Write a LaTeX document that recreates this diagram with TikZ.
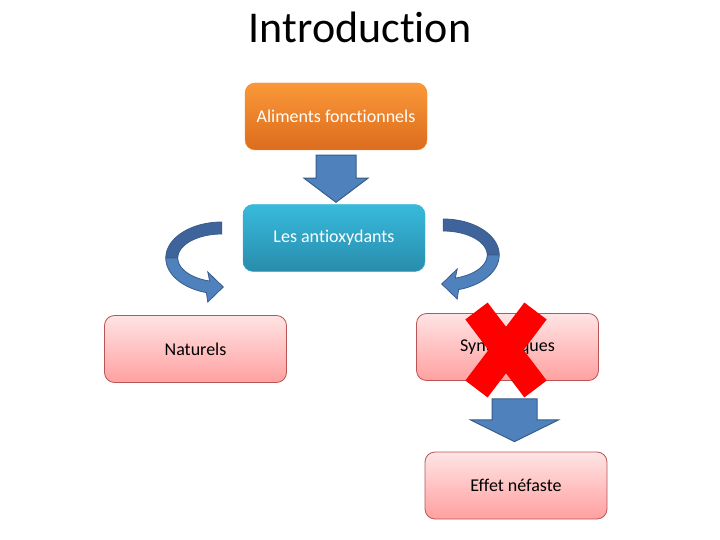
\documentclass[tikz,border=0pt]{standalone}
\usepackage{fontspec}
\setmainfont{Carlito}[Ligatures={NoCommon}]
\usetikzlibrary{calc}
\definecolor{arrfill}{HTML}{4F81BD}
\definecolor{arrline}{HTML}{385D8A}
\definecolor{arrdark}{RGB}{62,100,155}
\definecolor{pinkline}{RGB}{185,85,85}
\definecolor{pinktop}{RGB}{255,228,228}
\definecolor{pinkbot}{RGB}{255,160,160}
\definecolor{orgtop}{RGB}{250,152,56}
\definecolor{orgbot}{RGB}{220,108,30}
\definecolor{blutop}{RGB}{56,186,220}
\definecolor{blubot}{RGB}{40,140,172}
\newcommand\CurvArr{%
  \fill[arrdark,draw=arrline,line width=0.8pt]
    plot[domain=270:180,samples=40] ({56*cos(\x)},{36*sin(\x)})
    -- plot[domain=180:270,samples=40] ({44*cos(\x)},{24*sin(\x)}) -- cycle;
  \fill[arrfill,draw=arrline,line width=0.8pt]
    plot[domain=180:106,samples=40] ({56*cos(\x)},{36*sin(\x)})
    -- (-14,44) -- (1.5,29) -- (-14,14)
    -- plot[domain=106:180,samples=40] ({44*cos(\x)},{24*sin(\x)}) -- cycle;
}
\begin{document}
\begin{tikzpicture}[x=1pt,y=-1pt,
  boxbase/.style={rounded corners=10pt,minimum width=182pt,minimum height=67pt,
    font=\fontsize{18}{21.6}\selectfont,inner sep=2pt},
  orangebox/.style={boxbase,top color=orgtop,bottom color=orgbot,draw=orgtop!80!orgbot,text=white},
  bluebox/.style={boxbase,top color=blutop,bottom color=blubot,draw=blutop!80!blubot,text=white},
  pinkbox/.style={boxbase,top color=pinktop,bottom color=pinkbot,draw=pinkline,line width=0.8pt,text=black},
  blockarr/.style={fill=arrfill,draw=arrline,line width=1pt,line join=miter},
  cross/.style={draw=red,line width=28pt,line cap=butt}]
\useasboundingbox[fill=white] (0,0) rectangle (720,540);
\node[anchor=base,font=\fontsize{44}{52.8}\selectfont] (title) at (360,43) {Introduction};
\node[orangebox] (b1) at (336,116.5) {Aliments fonctionnels};
\node[bluebox] (b2) at (334,238) {Les antioxydants};
\node[pinkbox] (nat) at (195.5,349) {Naturels};
\node[pinkbox] (syn) at (507.5,347) {Synthétiques};
\node[pinkbox] (eff) at (516,485.5) {Effet néfaste};
% straight block arrows
\coordinate (a1top) at ($(b1.south)+(0,5)$);
\coordinate (a1tip) at ($(b1.south |- b2.north)+(0,-2)$);
\draw[blockarr] ($(a1top)+(-20,0)$) -- ($(a1top)+(20,0)$) -- ($(a1top)+(20,23)$)
  -- ($(a1top)+(32,23)$) -- (a1tip) -- ($(a1top)+(-32,23)$) -- ($(a1top)+(-20,23)$) -- cycle;
\coordinate (a2top) at ($(syn.south -| eff.north)+(-1.5,18)$);
\coordinate (a2tip) at ($(eff.north)+(-1.5,-10)$);
\draw[blockarr] ($(a2top)+(-22.5,0)$) -- ($(a2top)+(22.5,0)$) -- ($(a2top)+(22.5,21)$)
  -- ($(a2top)+(44,21)$) -- (a2tip) -- ($(a2top)+(-44,21)$) -- ($(a2top)+(-22.5,21)$) -- cycle;
% curved arrows
\coordinate (cl) at ($(b2.west)+(-21,20)$);
\coordinate (cr) at ($(b2.east)+(18,17)$);
\begin{scope}[shift={(cl)}]
  \CurvArr
\end{scope}
\begin{scope}[shift={(cr)},xscale=-1]
  \CurvArr
\end{scope}
% red cross
\coordinate (xc) at ($(syn.center)+(-1.5,3)$);
\draw[cross] ($(xc)+(-29.5,-39)$) -- ($(xc)+(29.5,39)$);
\draw[cross] ($(xc)+(29.5,-39)$) -- ($(xc)+(-29.5,39)$);
\end{tikzpicture}
\end{document}
